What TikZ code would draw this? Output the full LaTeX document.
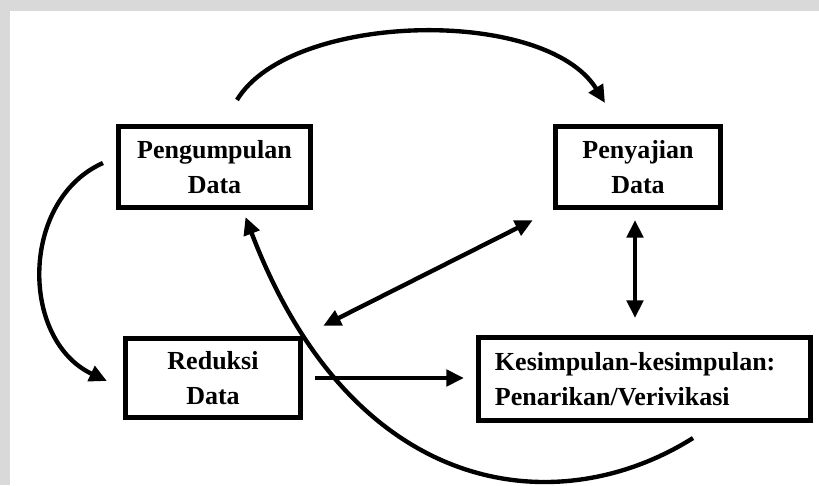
\documentclass[tikz,border=0pt]{standalone}
\usepackage{fontspec}
\setmainfont{Liberation Serif}
\usetikzlibrary{arrows.meta,positioning}
\definecolor{bandgray}{RGB}{217,217,217}

\begin{document}
\begin{tikzpicture}[x=0.025cm,y=-0.025cm,
    box/.style={draw,line width=3.6pt,inner sep=0pt,align=center,
        font=\fontsize{18.5}{25}\selectfont\bfseries},
    flow/.style={line width=3.1pt,-{Triangle[length=12.5pt,width=11.5pt]}},
    twoway/.style={line width=3.1pt,
        {Triangle[length=12.5pt,width=11.5pt]}-{Triangle[length=12.5pt,width=11.5pt]}}]

    % Page with grey band at top and left
    \useasboundingbox (0,0) rectangle (819,485);
    \fill[white] (0,0) rectangle (819,485);
    \fill[bandgray] (0,0) rectangle (819,11);
    \fill[bandgray] (0,0) rectangle (10,485);

    % The four stages
    \node[box,minimum width=4.8cm,minimum height=2.025cm] (pengumpulan) at (214.5,167) {Pengumpulan\\Data};
    \node[box,minimum width=4.125cm,minimum height=2.025cm] (penyajian) at (638,167) {Penyajian\\Data};
    \node[box,minimum width=4.375cm,minimum height=1.975cm] (reduksi) at (213,378) {Reduksi\\Data};
    \node[box,text width=7.475cm,inner xsep=0.4125cm,minimum height=2.075cm,align=left] (kesimpulan) at (644.5,379) {Kesimpulan-kesimpulan:\\Penarikan/Verivikasi};

    % Straight arrows
    \draw[flow,shorten <=0.3cm,shorten >=0.3cm] (reduksi.east) -- (reduksi.east -| kesimpulan.west);
    \draw[twoway,shorten <=0.565cm,shorten >=0.565cm] (reduksi.north east) -- (penyajian.south west);
    \draw[twoway,shorten <=0.25cm,shorten >=0.425cm] ([xshift=-0.075cm]penyajian.south) -- ([xshift=-0.075cm]penyajian.south |- kesimpulan.north);

    % Curved arrows
    \draw[flow] ([shift={(22.5,-24)}]pengumpulan.north) .. controls +(53,-88) and +(-60,-97) .. ([shift={(-33,-21)}]penyajian.north);
    \draw[flow] ([shift={(-13,-4)}]pengumpulan.west) .. controls +(-83,37) and +(-87,-41) .. ([shift={(-16,3)}]reduksi.west);
    \draw[flow] ([shift={(48.5,15)}]kesimpulan.south) .. controls +(-135,85) and +(108,283) .. ([shift={(31,7)}]pengumpulan.south);
\end{tikzpicture}
\end{document}
